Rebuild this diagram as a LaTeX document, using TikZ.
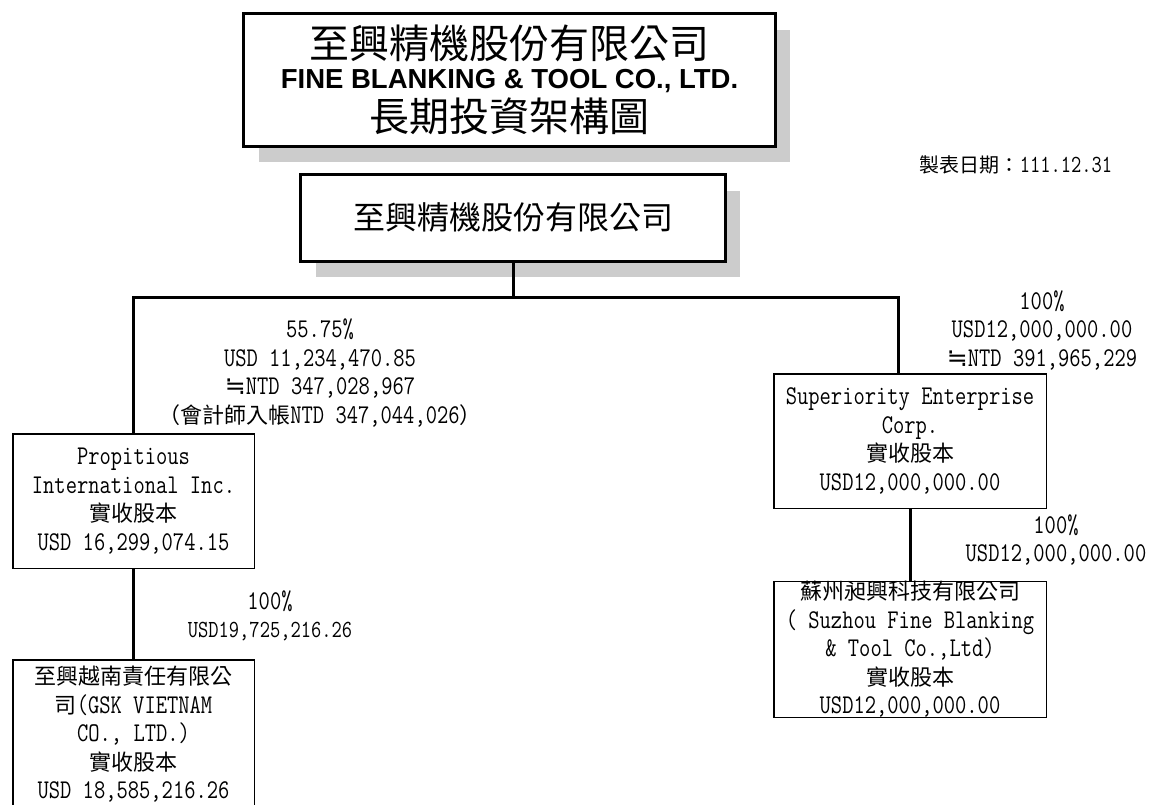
\documentclass[tikz,border=0pt]{standalone}
\usepackage{fontspec}
\setmonofont{Latin Modern Mono}[FakeStretch=0.81,Scale=1.23]
\newfontfamily\zh{Noto Sans CJK TC}
\newfontfamily\enfont{Liberation Sans}
\newfontfamily\symfont{DejaVu Sans}
\usetikzlibrary{shadows}

\newcommand\cofont{\ttfamily\fontsize{22}{28.5}\selectfont}
\newcommand\datefont{\ttfamily\fontsize{20}{26}\selectfont}
\newcommand\approxsym{{\symfont\fontsize{25}{28}\selectfont ≒}}

\tikzset{
  headbox/.style={draw=black,line width=3.3pt,fill=white,inner sep=0pt,align=center,
    drop shadow={shadow xshift=15pt,shadow yshift=-16pt,opacity=1,fill=black!20}},
  cobox/.style={draw=black,line width=1.5pt,fill=white,inner sep=0pt,align=center,font=\cofont},
  share/.style={inner sep=0pt,align=center,font=\cofont},
  link/.style={line width=3pt}
}

\begin{document}
\begin{tikzpicture}[x=1pt,y=-1pt]

%SPACING
\useasboundingbox (0,0) rectangle (1159,805);
%SPACING

\node[headbox,minimum width=531.7pt,minimum height=132.7pt,font=\fontsize{40}{44}\selectfont](title) at (509.5,80)
  {{\zh 至興精機股份有限公司}\\[-14pt]{\enfont\bfseries\fontsize{27.5}{30}\selectfont FINE BLANKING \& TOOL CO., LTD.}\\[-1pt]{\zh 長期投資架構圖}};

\node[font=\datefont](date) at (1016,165) {{\zh 製表日期：}111.12.31};

\node[headbox,minimum width=424.7pt,minimum height=86.7pt,font=\zh\fontsize{32}{36}\selectfont](fbt) at (513,218) {至興精機股份有限公司};

\node[cobox,minimum width=241.5pt,minimum height=134.5pt](prop) at (133.5,501)
  {Propitious\\International Inc.\\{\zh 實收股本}\\USD 16,299,074.15};
\node[cobox,minimum width=241.5pt,minimum height=149pt](gsk) at (133.5,734.5)
  {{\zh 至興越南責任有限公}\\{\zh 司}(GSK VIETNAM\\CO., LTD.)\\{\zh 實收股本}\\USD 18,585,216.26};

\node[cobox,minimum width=272.5pt,minimum height=134.5pt](sup) at (910,441)
  {Superiority Enterprise\\Corp.\\{\zh 實收股本}\\USD12,000,000.00};
\node[cobox,minimum width=272.5pt,minimum height=135.5pt](szh) at (910,649.5)
  {{\zh 蘇州昶興科技有限公司}\\( Suzhou Fine Blanking\\\& Tool Co.,Ltd)\\{\zh 實收股本}\\USD12,000,000.00};

% shares
\node[share](propshare) at (320,373) {55.75\%\\USD 11,234,470.85\\\approxsym NTD 347,028,967\\{\zh （會計師入帳}NTD 347,044,026{\zh ）}};
\node[share](supshare) at (1042,330) {100\%\\USD12,000,000.00\\\approxsym NTD 391,965,229};
\node[share](gskshare) at (270,616) {100\%\\{\fontsize{20}{26}\selectfont USD19,725,216.26}};
\node[share](szhshare) at (1056,540) {100\%\\USD12,000,000.00};

\coordinate(fork) at (513,297);
\coordinate(supin) at ([xshift=-12pt]sup.north);

\draw[link] (fbt.south) -- (fork);
\draw[link] (fork) -| (prop.north);
\draw[link] (fork) -| (supin);

\draw[link] (prop.south) -- (gsk.north);
\draw[link] (sup.south) -- (szh.north);

\end{tikzpicture}
\end{document}
